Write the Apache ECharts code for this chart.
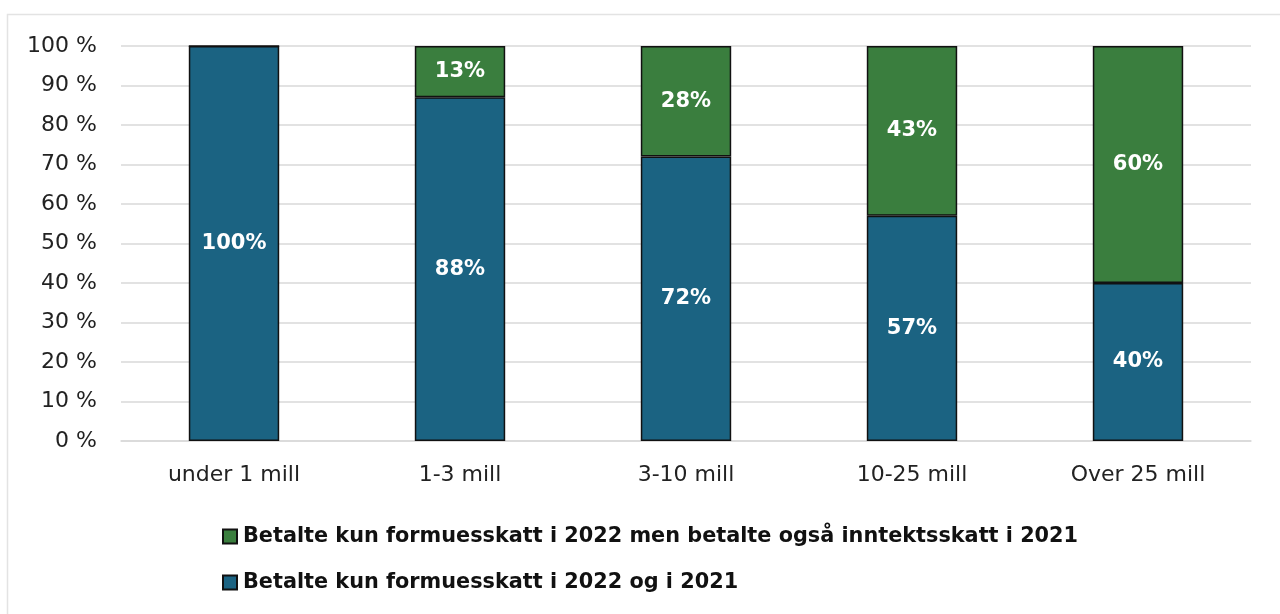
<!DOCTYPE html>
<html><head><meta charset="utf-8">
<script src="https://cdn.jsdelivr.net/npm/echarts@6/dist/echarts.min.js"></script>
<style>html,body{margin:0;padding:0;background:#fff}#c{width:1280px;height:614px}</style>
</head><body><div id="c"></div>
<script>
const categories = ['under 1 mill', '1-3 mill', '3-10 mill', '10-25 mill', 'Over 25 mill'];
const blueValues = [100, 87, 72, 57, 40];
const greenValues = [0, 13, 28, 43, 60];
const blueLabels = ['100%', '88%', '72%', '57%', '40%'];
const greenLabels = ['', '13%', '28%', '43%', '60%'];
const yTicks = [0, 10, 20, 30, 40, 50, 60, 70, 80, 90, 100];
const seriesNames = ['Betalte kun formuesskatt i 2022 og i 2021', 'Betalte kun formuesskatt i 2022 men betalte også inntektsskatt i 2021'];

const FONT = '"DejaVu Sans", "Liberation Sans", Arial, sans-serif';
const chart = echarts.init(document.getElementById('c'), null, {renderer: 'canvas'});
const labelStyle = {show: true, position: 'inside', color: '#fff', fontWeight: 'bold', fontSize: 21, fontFamily: FONT};
chart.setOption({
  animation: false,
  textStyle: {fontFamily: FONT},
  graphic: [{type: 'rect', shape: {x: 7.5, y: 14.5, width: 1300, height: 640}, style: {fill: 'none', stroke: '#e3e3e3', lineWidth: 1.5}, silent: true}],
  grid: {left: 121, right: 29, top: 46, bottom: 173, containLabel: false},
  legend: {
    orient: 'vertical', left: 217, top: 521, itemGap: 25,
    data: [seriesNames[1], seriesNames[0]],
    itemWidth: 14, itemHeight: 14, icon: 'rect',
    textStyle: {fontSize: 20.8, fontWeight: 'bold', color: '#111', fontFamily: FONT, padding: [0, 0, 0, 1]}
  },
  xAxis: {
    type: 'category', data: categories,
    axisLine: {show: true, lineStyle: {color: '#d9d9d9', width: 1.5}},
    axisTick: {show: false},
    axisLabel: {fontSize: 22, color: '#222', margin: 23, fontFamily: FONT}
  },
  yAxis: {
    type: 'value', min: 0, max: 100, interval: 10,
    axisLine: {show: false}, axisTick: {show: false},
    splitLine: {lineStyle: {color: '#d9d9d9', width: 1.5}},
    axisLabel: {fontSize: 22, color: '#222', margin: 24, fontFamily: FONT,
      formatter: v => yTicks.includes(v) ? v + ' %' : ''}
  },
  series: [
    {name: seriesNames[0], type: 'bar', stack: 's', data: blueValues, barWidth: '40%',
     itemStyle: {color: '#1b6382', borderColor: '#111', borderWidth: 1.5},
     label: Object.assign({}, labelStyle, {formatter: p => blueLabels[p.dataIndex]})},
    {name: seriesNames[1], type: 'bar', stack: 's', data: greenValues, barWidth: '40%',
     itemStyle: {color: '#3a7e3e', borderColor: '#111', borderWidth: 1.5},
     label: Object.assign({}, labelStyle, {formatter: p => greenLabels[p.dataIndex]})}
  ]
});
</script></body></html>
